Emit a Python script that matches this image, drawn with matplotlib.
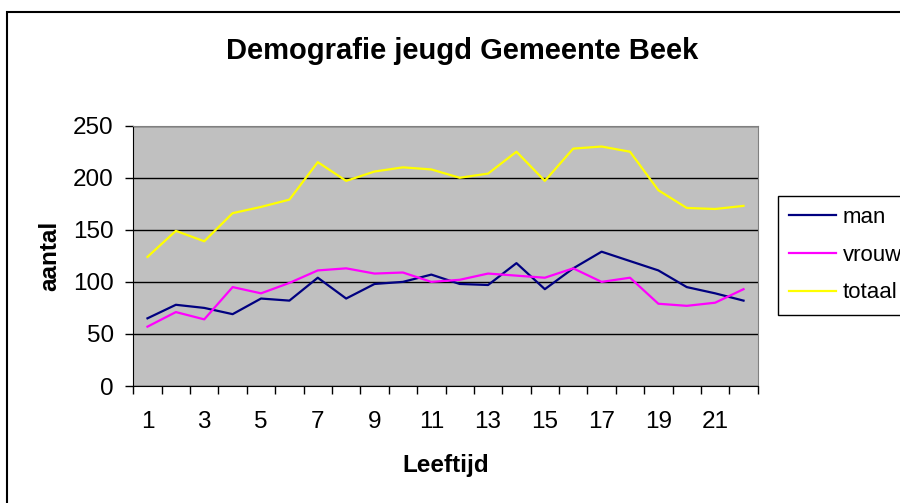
import matplotlib
matplotlib.use('Agg')
import matplotlib.pyplot as plt
from matplotlib.patches import Rectangle

plt.rcParams['font.family'] = ['Liberation Sans', 'DejaVu Sans']

leeftijd = list(range(1, 23))
man = [65, 78, 75, 69, 84, 82, 104, 84, 98, 100, 107, 98, 97, 118, 93, 113, 129, 120, 111, 95, 89, 82]
vrouw = [57, 71, 64, 95, 89, 99, 111, 113, 108, 109, 100, 102, 108, 106, 104, 113, 100, 104, 79, 77, 80, 93]
totaal = [124, 149, 139, 166, 172, 179, 215, 197, 206, 210, 208, 200, 204, 225, 197, 228, 230, 225, 188, 171, 170, 173]

fig = plt.figure(figsize=(9, 5.03), dpi=100)
fig.patch.set_facecolor('white')

# outer chart frame
fig.patches.append(Rectangle((7 / 900, -0.05), 1.0, 1 - 11.7 / 503 + 0.05,
                             transform=fig.transFigure, fill=False,
                             edgecolor='black', linewidth=1.5, clip_on=False))

ax = fig.add_axes([0.1481, 0.2326, 0.6938, 0.5175])
ax.set_facecolor('#C0C0C0')

ax.plot(leeftijd, man, color='#000080', linewidth=1.6, label='man')
ax.plot(leeftijd, vrouw, color='#FF00FF', linewidth=1.6, label='vrouw')
ax.plot(leeftijd, totaal, color='#FFFF00', linewidth=1.6, label='totaal')

ax.set_xlim(0.5, 22.5)
ax.set_ylim(0, 250)
ax.set_yticks(range(0, 251, 50))
ax.yaxis.grid(True, color='black', linewidth=1)
ax.set_axisbelow(True)

ax.set_xticks([x + 0.5 for x in range(0, 23)])
ax.set_xticklabels([])
ax.set_xticks(leeftijd[::2], minor=True)
ax.set_xticklabels([str(x) for x in leeftijd[::2]], minor=True)
ax.tick_params(axis='x', which='major', direction='out', length=6, width=1)
ax.tick_params(axis='x', which='minor', length=0, pad=18, labelsize=17.5)
ax.tick_params(axis='y', direction='out', length=6, width=1, pad=8, labelsize=17.5)

for side in ['top', 'right']:
    ax.spines[side].set_color('#808080')
for side in ['left', 'bottom']:
    ax.spines[side].set_color('black')

ax.set_xlabel('Leeftijd', fontsize=17.5, fontweight='bold')
ax.set_ylabel('aantal', fontsize=17.5, fontweight='bold')
ax.xaxis.set_label_coords(0.5, -0.3035)
ax.yaxis.set_label_coords(-0.133, 0.5)
ax.xaxis.label.set_va('center')
ax.yaxis.label.set_va('center')

fig.text(0.514, 1 - 51 / 503, 'Demografie jeugd Gemeente Beek', ha='center', va='center',
         fontsize=21, fontweight='bold')

leg = fig.legend(loc='upper left', bbox_to_anchor=(778 / 900, 1 - 196 / 503),
                 fontsize=16, frameon=True, fancybox=False, framealpha=1,
                 edgecolor='black', handlelength=2.1, labelspacing=0.75,
                 borderpad=0.5, handletextpad=0.3, borderaxespad=0)
leg.get_frame().set_linewidth(1)

fig.savefig('out.png', dpi=100)
